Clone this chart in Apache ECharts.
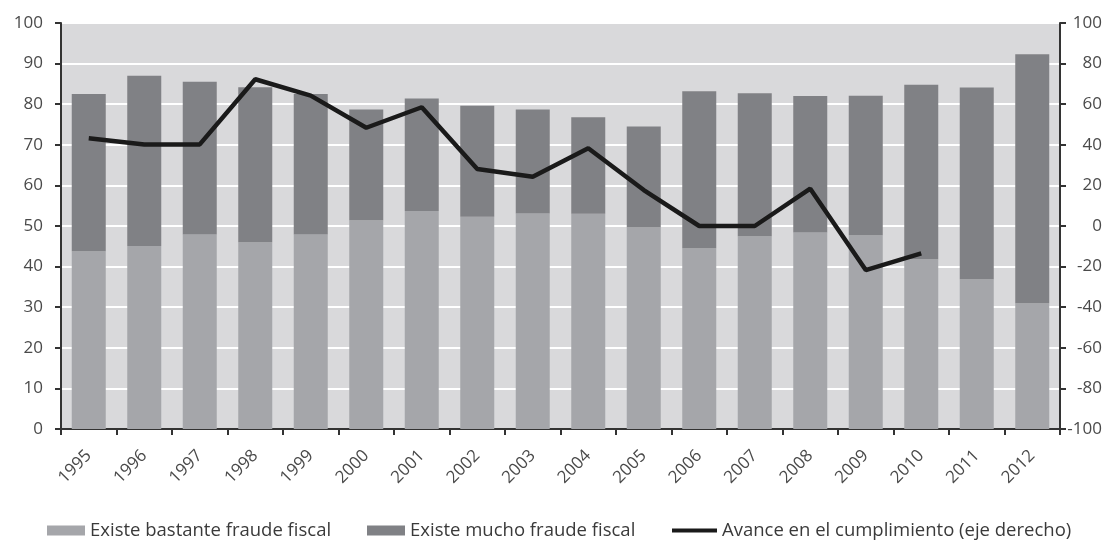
<!DOCTYPE html>
<html>
<head>
<meta charset="utf-8">
<script src="https://cdn.jsdelivr.net/npm/echarts@6/dist/echarts.min.js"></script>
<style>
  html, body { margin: 0; padding: 0; background: #ffffff; }
  #chart { width: 1106px; height: 543px; }
</style>
</head>
<body>
<div id="chart"></div>
<script>
// Years on the horizontal axis
const years = ['1995', '1996', '1997', '1998', '1999', '2000', '2001', '2002', '2003',
  '2004', '2005', '2006', '2007', '2008', '2009', '2010', '2011', '2012'];

// Share answering "Existe bastante fraude fiscal" (left axis, %)
const bastante = [43.8, 45.1, 47.9, 46.0, 47.9, 51.4, 53.7, 52.3, 53.1,
  53.0, 49.7, 44.5, 47.5, 48.4, 47.7, 41.8, 36.9, 31.0];

// Share answering "Existe mucho fraude fiscal" (stacked on top, left axis, %)
const mucho = [38.7, 41.9, 37.6, 38.2, 34.6, 27.3, 27.7, 27.3, 25.6,
  23.8, 24.8, 38.7, 35.2, 33.6, 34.4, 43.0, 47.2, 61.3];

// "Avance en el cumplimiento" (right axis)
const avance = [43.2, 40.2, 40.2, 72.3, 64.2, 48.4, 58.5, 28.1, 24.3,
  38.3, 17.7, 0, 0, 18.4, -21.7, -13.5, null, null];

const names = ['Existe bastante fraude fiscal', 'Existe mucho fraude fiscal',
  'Avance en el cumplimiento (eje derecho)'];

const tickFont = { fontFamily: 'Open Sans', fontSize: 17, color: '#4a4a4a' };
const legendText = { fontFamily: 'Open Sans', fontSize: 18.5, color: '#3a3a3a' };

const chart = echarts.init(document.getElementById('chart'));
chart.setOption({
  animation: false,
  backgroundColor: '#ffffff',
  grid: {
    left: 61, right: 46, top: 23, bottom: 114,
    show: true, backgroundColor: '#d9d9db', borderColor: '#333333', borderWidth: 2
  },
  legend: [
    { data: [{ name: names[0], icon: 'rect' }], left: 47, top: 521,
      itemWidth: 38, itemHeight: 10, itemGap: 0, padding: 0, textStyle: legendText },
    { data: [{ name: names[1], icon: 'rect' }], left: 367, top: 521,
      itemWidth: 38, itemHeight: 10, itemGap: 0, padding: 0, textStyle: legendText },
    { data: [{ name: names[2], icon: 'rect' }], left: 672, top: 521,
      itemWidth: 45, itemHeight: 4, itemGap: 0, padding: 0, textStyle: legendText }
  ],
  xAxis: {
    type: 'category',
    data: years,
    axisLine: { lineStyle: { color: '#333333', width: 2 } },
    axisTick: { show: true, length: 6, lineStyle: { color: '#333333', width: 2 } },
    axisLabel: Object.assign({ rotate: 45, margin: 24 }, tickFont)
  },
  yAxis: [
    {
      type: 'value', min: 0, max: 100, interval: 10,
      axisLine: { show: true, lineStyle: { color: '#333333', width: 2 } },
      axisTick: { show: true, length: 6, lineStyle: { color: '#333333', width: 2 } },
      axisLabel: Object.assign({ margin: 18 }, tickFont),
      splitLine: { show: true, lineStyle: { color: '#ffffff', width: 2 } }
    },
    {
      type: 'value', min: -100, max: 100, interval: 20, position: 'right',
      axisLine: { show: true, lineStyle: { color: '#333333', width: 2 } },
      axisTick: { show: true, length: 6, lineStyle: { color: '#333333', width: 2 } },
      axisLabel: Object.assign({ margin: 42, align: 'right' }, tickFont),
      splitLine: { show: false }
    }
  ],
  series: [
    {
      name: names[0], type: 'bar', stack: 'fraude', data: bastante, barWidth: 34,
      itemStyle: { color: '#a5a6aa' }
    },
    {
      name: names[1], type: 'bar', stack: 'fraude', data: mucho, barWidth: 34,
      itemStyle: { color: '#808185' }
    },
    {
      name: names[2], type: 'line', yAxisIndex: 1, data: avance,
      symbol: 'none', connectNulls: false,
      lineStyle: { color: '#1a1a1a', width: 4.5 },
      itemStyle: { color: '#1a1a1a' }
    }
  ]
});
</script>
</body>
</html>
